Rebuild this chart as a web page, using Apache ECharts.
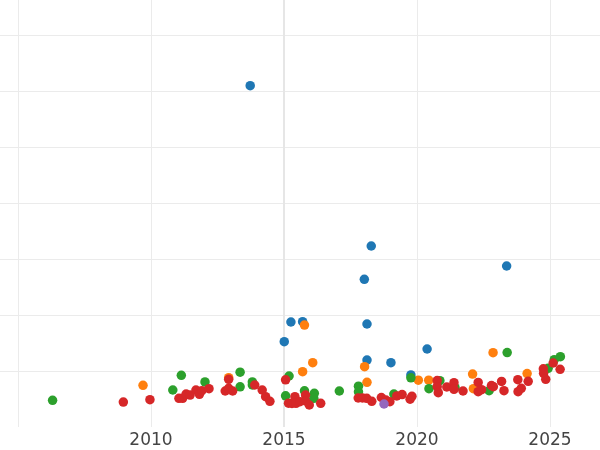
<!DOCTYPE html>
<html>
<head>
<meta charset="utf-8">
<script src="https://cdn.jsdelivr.net/npm/echarts@6/dist/echarts.min.js"></script>
<style>html,body{margin:0;padding:0;background:#fff}#c{width:600px;height:450px}</style>
</head>
<body>
<div id="c"></div>
<script>
// x-axis tick labels shown
const xTickLabels = [2010, 2015, 2020, 2025];

// series values: [year, value]
const blueData = [
  [2013.73, 60.95], [2018.28, 32.32], [2018.02, 26.38], [2023.37, 28.75],
  [2015.26, 18.75], [2015.70, 18.80], [2018.12, 18.39], [2015.01, 15.23],
  [2020.38, 13.93], [2018.12, 11.96], [2019.02, 11.48], [2019.77, 9.29]
];
const orangeData = [
  [2009.70, 7.45], [2012.92, 8.80], [2015.77, 18.21], [2016.08, 11.48],
  [2015.70, 9.88], [2018.03, 10.77], [2018.12, 7.98], [2020.05, 8.36],
  [2020.44, 8.36], [2022.09, 9.46], [2022.86, 13.27], [2024.14, 9.55],
  [2022.12, 6.84]
];
const greenData = [
  [2006.30, 4.77], [2011.14, 9.23], [2010.82, 6.61], [2012.03, 8.04],
  [2013.35, 9.79], [2013.35, 7.18], [2013.81, 8.04], [2013.81, 7.50],
  [2015.19, 9.11], [2015.06, 5.57], [2015.77, 6.46], [2016.14, 6.02],
  [2016.12, 5.13], [2017.08, 6.43], [2017.80, 7.29], [2017.80, 6.29],
  [2019.13, 5.89], [2019.77, 8.79], [2020.45, 6.84], [2020.86, 8.27],
  [2021.43, 7.02], [2022.71, 6.48], [2023.39, 13.30], [2024.93, 10.48],
  [2025.16, 12.02], [2025.39, 12.55]
];
const redData = [
  [2008.96, 4.46], [2009.96, 4.88], [2011.05, 5.13], [2011.19, 5.13],
  [2011.32, 5.89], [2011.47, 5.71], [2011.69, 6.61], [2011.82, 5.84],
  [2011.91, 6.48], [2012.18, 6.84], [2012.79, 6.43], [2012.92, 8.52],
  [2012.92, 6.91], [2013.07, 6.43], [2013.90, 7.50], [2014.18, 6.61],
  [2014.31, 5.41], [2014.47, 4.59], [2015.06, 8.43], [2015.17, 4.25],
  [2015.30, 4.20], [2015.41, 5.41], [2015.45, 4.23], [2015.60, 4.52],
  [2015.81, 5.71], [2015.81, 4.64], [2015.95, 3.93], [2016.38, 4.23],
  [2017.79, 5.18], [2017.95, 5.18], [2018.11, 5.13], [2018.30, 4.59],
  [2018.66, 5.27], [2018.83, 4.82], [2018.98, 4.52], [2019.24, 5.54],
  [2019.44, 5.80], [2019.74, 4.96], [2019.81, 5.48], [2020.76, 8.30],
  [2020.76, 7.20], [2020.80, 6.13], [2021.12, 7.14], [2021.39, 7.91],
  [2021.39, 6.73], [2021.73, 6.43], [2022.30, 7.95], [2022.30, 6.30],
  [2022.43, 6.66], [2022.80, 7.41], [2022.87, 7.20], [2023.18, 8.13],
  [2023.27, 6.48], [2023.79, 8.45], [2023.80, 6.30], [2023.92, 6.91],
  [2024.18, 8.16], [2024.75, 10.39], [2024.76, 9.59], [2024.84, 8.52],
  [2025.12, 11.43], [2025.38, 10.30]
];
const purpleData = [
  [2018.76, 4.11]
];

const seriesNames = ['blue', 'orange', 'green', 'red', 'purple'];
const seriesColors = ['#1f77b4', '#ff7f0e', '#2ca02c', '#d62728', '#9467bd'];
const seriesData = [blueData, orangeData, greenData, redData, purpleData];

const chart = echarts.init(document.getElementById('c'), null, {renderer: 'canvas'});
const series = seriesData.map((d, i) => ({
  name: seriesNames[i],
  type: 'scatter',
  data: d,
  symbol: 'circle',
  symbolSize: 9.5,
  itemStyle: {color: seriesColors[i], opacity: 1},
  emphasis: {disabled: true},
  z: 2 + i
}));
series[0].markLine = {
  silent: true,
  z: 1,
  symbol: ['none', 'none'],
  label: {show: false},
  lineStyle: {color: '#e6e6e6', width: 2, type: 'solid'},
  data: [{xAxis: 2015}]
};

chart.setOption({
  animation: false,
  backgroundColor: '#ffffff',
  grid: {left: -115, right: -83, top: -21, bottom: 23, containLabel: false, outerBoundsMode: 'none'},
  xAxis: {
    type: 'value',
    min: 2000, max: 2030, interval: 5,
    axisLine: {show: false},
    axisTick: {show: false},
    splitLine: {show: true, lineStyle: {color: '#ebebeb', width: 1}},
    axisLabel: {
      margin: 5,
      fontFamily: 'DejaVu Sans',
      fontSize: 17,
      color: '#444444',
      formatter: v => xTickLabels.includes(v) ? String(v) : ''
    }
  },
  yAxis: {
    type: 'value',
    min: 0, max: 80, interval: 10,
    axisLine: {show: false},
    axisTick: {show: false},
    axisLabel: {show: false},
    splitLine: {show: true, showMinLine: false, lineStyle: {color: '#ebebeb', width: 1}}
  },
  series: series
});
</script>
</body>
</html>
